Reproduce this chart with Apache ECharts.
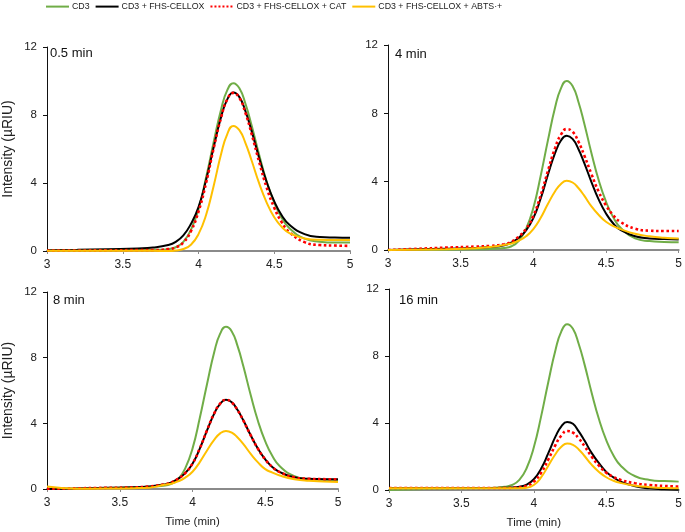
<!DOCTYPE html>
<html>
<head>
<meta charset="utf-8">
<script src="https://cdn.jsdelivr.net/npm/echarts@6/dist/echarts.min.js"></script>
<style>html,body{margin:0;padding:0;background:#fff}#c{width:685px;height:532px}</style>
</head>
<body>
<div id="c"></div>
<script>
// ---- data ----
const times = [3, 3.2, 3.4, 3.6, 3.7, 3.8, 3.85, 3.9, 3.95, 4, 4.05, 4.1, 4.15, 4.19, 4.23, 4.27, 4.31, 4.35, 4.4, 4.45, 4.5, 4.55, 4.6, 4.7, 4.8, 4.9, 5];
const seriesNames = ['CD3', 'CD3 + FHS-CELLOX', 'CD3 + FHS-CELLOX + CAT', 'CD3 + FHS-CELLOX + ABTS·+'];
const panelTitles = ['0.5 min', '4 min', '8 min', '16 min'];
const xTicks = [3, 3.5, 4, 4.5, 5];
const yTicks = [0, 4, 8, 12];

// 0.5 min
const cd3_05  = [0.02,0.03,0.05,0.06,0.07,0.11,0.22,0.54,1.24,2.46,4.32,6.40,8.36,9.46,9.87,9.57,8.66,7.41,5.67,4.09,2.85,1.94,1.34,0.73,0.55,0.50,0.50];
const fhs_05  = [0.04,0.07,0.11,0.15,0.20,0.35,0.54,0.92,1.59,2.58,4.18,6.10,7.91,8.92,9.32,9.05,8.22,7.08,5.49,4.05,2.92,2.09,1.54,0.99,0.82,0.79,0.78];
const cat_05  = [0.02,0.03,0.04,0.05,0.05,0.11,0.21,0.50,1.17,2.32,4.00,6.04,7.88,8.92,9.30,9.00,8.12,6.91,5.25,3.73,2.55,1.68,1.11,0.52,0.35,0.32,0.30];
const abts_05 = [0.02,0.02,0.02,0.01,0.01,0.00,0.03,0.12,0.37,0.99,2.12,3.83,5.73,6.88,7.36,7.11,6.35,5.34,3.99,2.85,1.98,1.41,1.05,0.74,0.66,0.65,0.65];
// 4 min
const cd3_4  = [0.00,0.01,0.02,0.04,0.06,0.12,0.22,0.54,1.24,2.46,4.32,6.40,8.36,9.46,9.90,9.60,8.68,7.42,5.67,4.08,2.83,1.91,1.30,0.68,0.52,0.47,0.45];
const fhs_4  = [0.00,0.04,0.08,0.12,0.17,0.28,0.44,0.72,1.15,1.87,3.00,4.39,5.68,6.41,6.69,6.50,5.91,5.10,3.98,2.95,2.14,1.55,1.17,0.80,0.68,0.64,0.62];
const cat_4  = [0.00,0.07,0.14,0.20,0.24,0.34,0.49,0.79,1.24,2.00,3.18,4.62,5.98,6.75,7.08,6.92,6.35,5.55,4.44,3.41,2.61,2.03,1.64,1.25,1.13,1.11,1.11];
const abts_4 = [0.00,0.02,0.05,0.10,0.17,0.30,0.38,0.55,0.80,1.22,1.87,2.69,3.44,3.87,4.05,3.95,3.63,3.18,2.55,2.05,1.65,1.40,1.22,0.95,0.80,0.72,0.68];
// 8 min
const cd3_8  = [0.00,0.03,0.06,0.10,0.14,0.20,0.30,0.58,1.26,2.46,4.32,6.40,8.36,9.46,9.88,9.60,8.70,7.46,5.72,4.14,2.90,1.99,1.39,0.78,0.60,0.56,0.55];
const fhs_8  = [0.00,0.03,0.07,0.10,0.15,0.27,0.39,0.62,0.97,1.54,2.46,3.57,4.61,5.19,5.43,5.28,4.81,4.17,3.27,2.45,1.80,1.33,1.03,0.71,0.62,0.60,0.59];
const cat_8  = [0.01,0.04,0.07,0.10,0.15,0.27,0.39,0.62,0.97,1.55,2.47,3.58,4.62,5.20,5.43,5.27,4.80,4.16,3.27,2.45,1.80,1.33,1.03,0.71,0.62,0.60,0.59];
const abts_8 = [0.15,0.02,0.03,0.05,0.08,0.24,0.32,0.46,0.69,1.05,1.64,2.35,3.01,3.39,3.54,3.44,3.14,2.73,2.14,1.62,1.21,1.00,0.82,0.60,0.50,0.46,0.43];
// 16 min
const cd3_16  = [0.00,0.05,0.08,0.10,0.12,0.20,0.30,0.60,1.30,2.55,4.38,6.45,8.38,9.47,9.90,9.62,8.72,7.50,5.78,4.22,2.98,2.06,1.45,0.82,0.60,0.53,0.50];
const fhs_16  = [0.12,0.12,0.12,0.12,0.12,0.13,0.15,0.20,0.32,0.64,1.27,2.20,3.20,3.80,4.06,3.95,3.50,2.95,2.20,1.60,1.08,0.75,0.50,0.22,0.10,0.04,0.02];
const cat_16  = [0.12,0.12,0.12,0.12,0.12,0.12,0.13,0.16,0.25,0.50,1.02,1.82,2.70,3.25,3.52,3.43,3.08,2.62,1.98,1.45,1.03,0.78,0.60,0.40,0.30,0.24,0.20];
const abts_16 = [0.10,0.10,0.10,0.10,0.10,0.10,0.10,0.10,0.13,0.30,0.75,1.45,2.15,2.58,2.78,2.70,2.42,2.03,1.50,1.08,0.76,0.55,0.42,0.26,0.17,0.12,0.10];

const panels = [
  [cd3_05, fhs_05, cat_05, abts_05],
  [cd3_4, fhs_4, cat_4, abts_4],
  [cd3_8, fhs_8, cat_8, abts_8],
  [cd3_16, fhs_16, cat_16, abts_16]
];

// ---- styling / layout ----
const colors = ['#70AD47', '#000000', '#FF0000', '#FFC000'];
const lineTypes = ['solid', 'solid', 'dotted', 'solid'];
const lineWidths = [2, 2, 2.6, 2];
const grids = [
  {left: 47, right: 335, top: 47, bottom: 281},
  {left: 388, right: 6, top: 45, bottom: 282},
  {left: 45, right: 347, top: 292, bottom: 43},
  {left: 389, right: 4, top: 289, bottom: 42}
];
const titlePos = [[50, 47], [395, 48], [53, 294], [399, 294]];
const FONT = "'Liberation Sans', Arial, sans-serif";

const chart = echarts.init(document.getElementById('c'), null, {renderer: 'canvas'});

const xAxes = grids.map((g, i) => ({
  type: 'value', gridIndex: i, min: xTicks[0], max: xTicks[xTicks.length - 1], interval: 0.5,
  name: i >= 2 ? 'Time (min)' : '', nameLocation: 'middle', nameGap: 27,
  nameTextStyle: {fontFamily: FONT, fontSize: 11.5, color: '#222'},
  axisLine: {show: true, onZero: false, lineStyle: {color: '#8a8a8a', width: 2}},
  axisTick: {show: true, length: 3, lineStyle: {color: '#8a8a8a', width: 1}},
  axisLabel: {fontFamily: FONT, fontSize: 12, color: '#222', margin: 8,
    formatter: v => String(v)},
  splitLine: {show: false}
}));
const yAxes = grids.map((g, i) => ({
  type: 'value', gridIndex: i, min: yTicks[0], max: yTicks[yTicks.length - 1], interval: 4,
  name: (i % 2 === 0) ? 'Intensity (µRIU)' : '', nameLocation: 'middle', nameGap: 32,
  nameTextStyle: {fontFamily: FONT, fontSize: 14, color: '#222'},
  axisLine: {show: true, lineStyle: {color: '#111', width: 1}},
  axisTick: {show: true, length: 4, lineStyle: {color: '#111'}},
  axisLabel: {fontFamily: FONT, fontSize: 11.5, color: '#222', margin: 10},
  splitLine: {show: false}
}));

const series = [];
panels.forEach((arrs, p) => {
  arrs.forEach((vals, k) => {
    series.push({
      name: seriesNames[k], type: 'line', xAxisIndex: p, yAxisIndex: p,
      data: times.map((t, j) => [t, vals[j]]),
      smooth: 0.5, symbol: 'none', silent: true,
      lineStyle: {color: colors[k], width: lineWidths[k], type: lineTypes[k]},
      itemStyle: {color: colors[k]},
      z: 2 + k
    });
  });
});

chart.setOption({
  animation: false,
  backgroundColor: '#fff',
  title: panelTitles.map((t, i) => ({
    text: t, left: titlePos[i][0], top: titlePos[i][1], padding: 0,
    textStyle: {fontFamily: FONT, fontSize: 13, fontWeight: 'normal', color: '#111'}
  })),
  legend: {
    data: seriesNames, left: 45, top: 1, padding: 0, itemWidth: 23, itemHeight: 14, itemGap: 5,
    itemStyle: {opacity: 0, borderWidth: 0},
    textStyle: {fontFamily: FONT, fontSize: 8.8, color: '#222', padding: [0, 0, 0, -2]}
  },
  grid: grids,
  xAxis: xAxes,
  yAxis: yAxes,
  series: series
});
</script>
</body>
</html>
